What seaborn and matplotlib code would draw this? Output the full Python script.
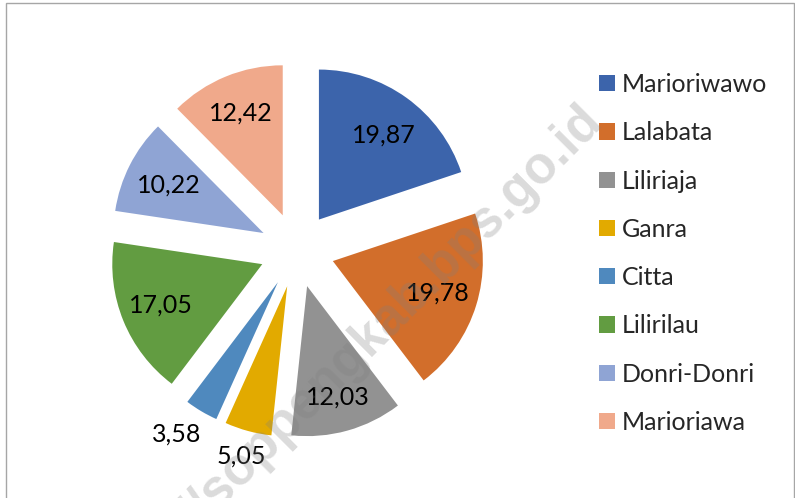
import numpy as np
import pandas as pd
import seaborn as sns
import matplotlib
matplotlib.use("Agg")
import matplotlib.pyplot as plt
from matplotlib.patches import Rectangle

# ---- data ----
categories = ["Marioriwawo", "Lalabata", "Liliriaja", "Ganra", "Citta",
              "Lilirilau", "Donri-Donri", "Marioriawa"]
values = [19.87, 19.78, 12.03, 5.05, 3.58, 17.05, 10.22, 12.42]
colors_hex = ["#3C64AB", "#D26E2B", "#929292", "#E2AA00",
              "#4F89BE", "#629C41", "#8FA4D4", "#F0A98B"]

df = pd.DataFrame({"kecamatan": categories, "nilai": values})

sns.set_theme(style="white")
plt.rcParams["font.family"] = ["Lato", "DejaVu Sans"]

W, H = 795, 498
fig = plt.figure(figsize=(W / 100, H / 100), dpi=100)
ax = fig.add_axes([0, 0, 1, 1])

palette = sns.color_palette(colors_hex)
R = 150.0  # pixels per unit radius
cx, cy = 297.0, 248.0
wedges, _ = ax.pie(df["nilai"], colors=palette, startangle=90, counterclock=False,
                   explode=[0.25] * len(df), radius=1.0, center=(0, 0),
                   wedgeprops=dict(linewidth=0))
ax.set_xlim(-cx / R, (W - cx) / R)
ax.set_ylim(-cy / R, (H - cy) / R)
ax.set_aspect("equal")
ax.axis("off")

# data labels (distance from wedge apex, angle tweak in degrees)
label_dist = [0.71, 0.73, 0.77, 1.17, 1.22, 0.73, 0.71, 0.74]
label_dth = [-2, 0, 0, 0, -3, 0, 0, 0]
for w, v, d, dt in zip(wedges, df["nilai"], label_dist, label_dth):
    th = np.deg2rad(0.5 * (w.theta1 + w.theta2) + dt)
    x = w.center[0] + d * w.r * np.cos(th)
    y = w.center[1] + d * w.r * np.sin(th)
    ax.text(x, y, f"{v:.2f}".replace(".", ","), ha="center", va="center",
            fontsize=18, color="black")

# legend
leg = ax.legend(wedges, df["kecamatan"], loc="upper left",
                bbox_to_anchor=(599 / W, 1 - 73 / H), bbox_transform=fig.transFigure,
                frameon=False, fontsize=18, handlelength=0.62, handleheight=0.62,
                handletextpad=0.3, labelspacing=1.01, borderaxespad=0, borderpad=0)

# watermark
fig.text(604 / W, 1 - 122 / H, "http://soppengkab.bps.go.id", rotation=45,
         rotation_mode="anchor", ha="right", va="baseline", fontsize=37,
         fontweight="bold", family="Liberation Sans", color="#7f7f7f", alpha=0.28,
         zorder=10)

# chart border
fig.patches.append(Rectangle((6 / W, -0.1), (794 - 6) / W, 1.1 - 3 / H,
                             transform=fig.transFigure, fill=False,
                             edgecolor="#A6A6A6", linewidth=1.0))

fig.savefig("out.png", dpi=100)
